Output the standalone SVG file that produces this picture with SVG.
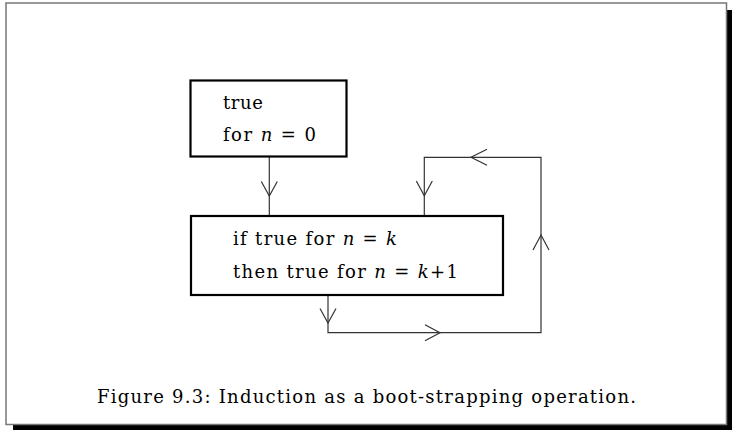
<svg xmlns="http://www.w3.org/2000/svg" width="732" height="430" viewBox="0 0 732 430">
<style>
.box{fill:#fff;stroke:#000;stroke-width:2.2}
.t{font-family:"DejaVu Serif","Liberation Serif",serif;font-size:18px;fill:#000}
.m{font-style:italic}
.c{fill:none;stroke:#333;stroke-width:1.2}
.ah{fill:none;stroke:#333;stroke-width:1.2}
</style>
<rect x="0" y="0" width="732" height="430" fill="#fff"/>
<g id="frame">
<rect x="727" y="10" width="5" height="420" fill="#000"/>
<rect x="13" y="424.5" width="719" height="5.5" fill="#000"/>
<rect x="6" y="3" width="720.5" height="421.5" fill="none" stroke="#777" stroke-width="1.5"/>
</g>
<g id="connectors">
<path class="c" d="M269.3,157 V216"/>
<path class="ah" d="M261.3,181.5 L269.3,196 L277.3,181.5"/>
<path class="c" d="M328,295 V332.7 H541 V157.3 H424.3 V216"/>
<path class="ah" d="M320,308.5 L328,323 L336,308.5"/>
<path class="ah" d="M425,324.7 L440,332.7 L425,340.7"/>
<path class="ah" d="M533,250 L541,235 L549,250"/>
<path class="ah" d="M487,149.3 L471,157.3 L487,165.3"/>
<path class="ah" d="M416.3,181 L424.3,195.7 L432.3,181"/>
</g>
<g id="base">
<rect class="box" x="190.5" y="80.5" width="156" height="76"/>
<text class="t" x="223" y="109" textLength="40" lengthAdjust="spacing">true</text>
<text class="t" x="223" y="141" textLength="93" lengthAdjust="spacing">for <tspan class="m">n</tspan> = 0</text>
</g>
<g id="step">
<rect class="box" x="191" y="216" width="312" height="79"/>
<text class="t" x="233" y="245" textLength="164" lengthAdjust="spacing">if true for <tspan class="m">n</tspan> = <tspan class="m">k</tspan></text>
<text class="t" x="233" y="277.5" textLength="225" lengthAdjust="spacing">then true for <tspan class="m">n</tspan> = <tspan class="m">k</tspan>+1</text>
</g>
<g id="caption">
<text class="t" x="97" y="403" textLength="539" lengthAdjust="spacing">Figure 9.3: Induction as a boot-strapping operation.</text>
</g>
</svg>
